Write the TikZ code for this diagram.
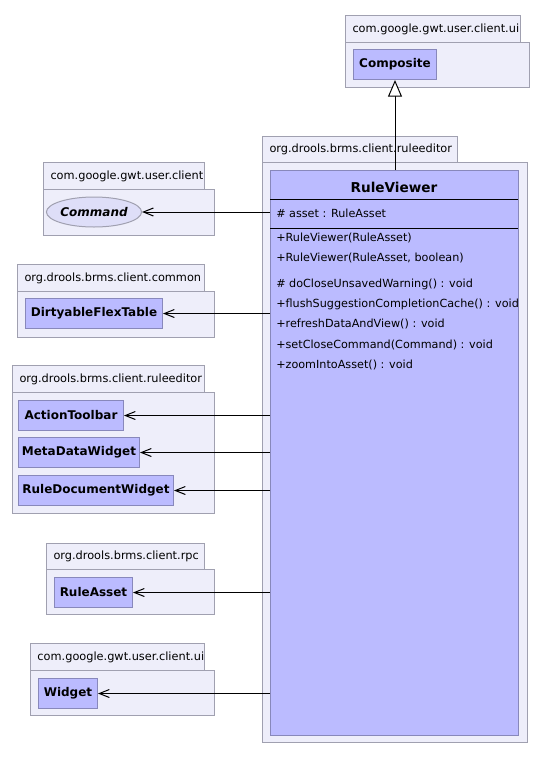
\documentclass[tikz,border=0pt]{standalone}
\usepackage{fontspec}
\setmainfont{DejaVu Sans}
\usetikzlibrary{arrows.meta,shapes.geometric,positioning}

\definecolor{pkgfill}{RGB}{238,238,250}
\definecolor{pkgline}{RGB}{160,160,176}
\definecolor{clsfill}{RGB}{187,187,255}
\definecolor{clsline}{RGB}{136,136,187}
\definecolor{ifcfill}{RGB}{222,222,248}

\tikzset{
  sized/.style 2 args={minimum width=#1*0.75pt, minimum height=#2*0.75pt},
  pkgtab/.style 2 args={draw=pkgline, fill=pkgfill, anchor=north west, line width=0.75pt,
    inner xsep=7*0.75pt, inner ysep=0pt, text width=#1*0.75pt-10.5pt, align=left,
    minimum height=#2*0.75pt, font=\fontsize{8.5}{10}\selectfont},
  pkgbody/.style={draw=pkgline, fill=pkgfill, anchor=north west, line width=0.75pt, inner sep=0pt},
  classbox/.style={draw=clsline, fill=clsfill, anchor=north west, line width=0.75pt,
    inner sep=0pt, font=\fontsize{9}{11}\selectfont\bfseries},
  ifcbox/.style={ellipse, draw=pkgline, fill=ifcfill, line width=0.75pt, inner sep=0pt,
    font=\fontsize{9}{11}\selectfont\bfseries\itshape},
  member/.style={anchor=west, inner sep=0pt, font=\fontsize{8.4}{10}\selectfont},
  dep/.style={-{Straight Barb[length=7.5pt, width=6pt]}, line width=0.75pt},
  gen/.style={-{Triangle[length=12.5pt, width=10.5pt, fill=white]}, line width=0.75pt}
}

\begin{document}
\begin{tikzpicture}[x=0.75pt, y=-0.75pt]
  \useasboundingbox[fill=white] (0,0) rectangle (541,758);

  % com.google.gwt.user.client.ui (top)
  \node[pkgtab={175}{27}] (uiTopTab) at (345,15) {com.google.gwt.user.client.ui};
  \node[pkgbody, sized={184}{45}] (uiTop) at (345,42) {};
  \node[classbox, sized={83}{30}] (composite) at (353,49) {Composite};

  % org.drools.brms.client.ruleeditor (main)
  \node[pkgtab={195}{26}] (mainTab) at (262,136) {org.drools.brms.client.ruleeditor};
  \node[pkgbody, sized={265}{580}] (main) at (262,162) {};
  \node[classbox, sized={248}{565}] (rv) at (270,170) {};
  \node[font=\fontsize{10.2}{12}\selectfont\bfseries] (rvTitle) at (394,187) {RuleViewer};
  \draw[line width=0.75pt] (270,199) -- (518,199);
  \draw[line width=0.75pt] (270,228) -- (518,228);
  \node[member] (mAsset)   at (276,213) {\# asset : RuleAsset};
  \node[member] (mCtorA)   at (276,238) {+RuleViewer(RuleAsset)};
  \node[member] (mCtorB)   at (276,258) {+RuleViewer(RuleAsset, boolean)};
  \node[member] (mClose)   at (276,284) {\# doCloseUnsavedWarning() : void};
  \node[member] (mFlush)   at (276,304) {+flushSuggestionCompletionCache() : void};
  \node[member] (mRefresh) at (276,324) {+refreshDataAndView() : void};
  \node[member] (mSetCmd)  at (276,345) {+setCloseCommand(Command) : void};
  \node[member] (mZoom)    at (276,365) {+zoomIntoAsset() : void};

  % com.google.gwt.user.client
  \node[pkgtab={161}{27}] (clientTab) at (43,162) {com.google.gwt.user.client};
  \node[pkgbody, sized={171}{46}] (client) at (43,189) {};
  \node[ifcbox, sized={86}{30}] (command) at (94,212) {Command};

  % org.drools.brms.client.common
  \node[pkgtab={187}{27}] (commonTab) at (17,264) {org.drools.brms.client.common};
  \node[pkgbody, sized={197}{46}] (common) at (17,291) {};
  \node[classbox, sized={137}{30}] (dirty) at (25,298) {DirtyableFlexTable};

  % org.drools.brms.client.ruleeditor
  \node[pkgtab={192}{27}] (editorTab) at (12,365) {org.drools.brms.client.ruleeditor};
  \node[pkgbody, sized={202}{121}] (editor) at (12,392) {};
  \node[classbox, sized={105}{30}] (toolbar) at (18,400) {ActionToolbar};
  \node[classbox, sized={121}{30}] (meta)    at (18,437) {MetaDataWidget};
  \node[classbox, sized={155}{30}] (doc)     at (18,475) {RuleDocumentWidget};

  % org.drools.brms.client.rpc
  \node[pkgtab={158}{26}] (rpcTab) at (46,543) {org.drools.brms.client.rpc};
  \node[pkgbody, sized={168}{45}] (rpc) at (46,569) {};
  \node[classbox, sized={78}{30}] (asset) at (54,577) {RuleAsset};

  % com.google.gwt.user.client.ui (bottom)
  \node[pkgtab={174}{27}] (uiBotTab) at (30,643) {com.google.gwt.user.client.ui};
  \node[pkgbody, sized={184}{45}] (uiBot) at (30,670) {};
  \node[classbox, sized={59}{30}] (widget) at (38,678) {Widget};

  % connectors
  \draw[gen] (rv.north -| composite.south) -- (composite.south);
  \draw[dep] (rv.west |- command.east) -- (command.east);
  \draw[dep] (rv.west |- dirty.east)   -- (dirty.east);
  \draw[dep] (rv.west |- toolbar.east) -- (toolbar.east);
  \draw[dep] (rv.west |- meta.east)    -- (meta.east);
  \draw[dep] (rv.west |- doc.east)     -- (doc.east);
  \draw[dep] (rv.west |- asset.east)   -- (asset.east);
  \draw[dep] (rv.west |- widget.east)  -- (widget.east);
\end{tikzpicture}
\end{document}
